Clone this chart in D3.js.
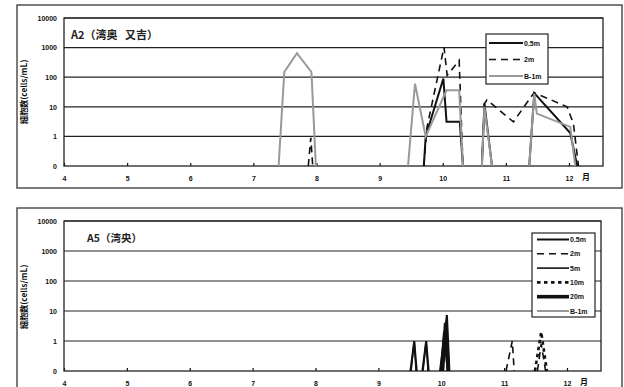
<!DOCTYPE html>
<html><head><meta charset="utf-8">
<script src="https://cdn.jsdelivr.net/npm/d3@7"></script>
<style>
body{margin:0;background:#fff;}
svg{display:block;font-family:"Liberation Sans",Arial,sans-serif;}
</style></head>
<body>
<svg id="c" width="624" height="387"></svg>
<script>
// ---------- data ----------
const monthTicks = [4,5,6,7,8,9,10,11,12];
const yTickValues = [0.1,1,10,100,1000,10000];
const yTickLabels = ["0","1","10","100","1000","10000"];
const yTitle = "細胞数(cells/mL)";
const monthUnit = "月";

// panel A2 (null = break in the line)
const a2Title = "A2（湾奥 又吉）";
const a2Names = ["0.5m","2m","B-1m"];
const a2_05m = [[9.70,0],[9.73,1],[10.01,90],[10.06,3.1],[10.27,3.1],[10.32,0],null,
  [10.62,0],[10.66,13],[10.78,0],null,[11.37,0],[11.45,29],[12.02,1.3],[12.13,0]];
const a2_2m = [[7.87,0],[7.91,0.9],[7.94,0],null,[9.70,0],[9.75,2],[10.02,1040],[10.07,115],
  [10.26,370],[10.32,0],null,[10.62,0],[10.66,13],[10.70,17],[11.12,3.1],[11.38,19],
  [11.45,30],[11.97,10],[12.07,2.7],[12.15,0]];
const a2_b1m = [[7.40,0],[7.49,150],[7.69,650],[7.92,150],[7.99,0],null,[9.45,0],[9.56,60],
  [9.73,1],[10.06,36],[10.26,36],[10.32,0],null,[10.62,0],[10.66,10],[10.78,0],null,
  [11.37,0],[11.45,28],[11.49,5.9],[12.02,2.1],[12.10,0]];

// panel A5
const a5Title = "A5（湾央）";
const a5Names = ["0.5m","2m","5m","10m","20m","B-1m"];
const a5_05m = [[9.51,0],[9.57,1],[9.61,0],null,[9.70,0],[9.76,1],[9.80,0],null,[9.98,0],[10.09,7.4],[10.13,0]];
const a5_2m = [[11.03,0],[11.13,1],[11.16,0],null,[11.53,0],[11.59,0.8],[11.66,0]];
const a5_5m = [[9.52,0],[9.57,1],[9.60,0],null,[9.71,0],[9.76,1],[9.79,0],null,[9.99,0],[10.04,2],[10.10,0]];
const a5_10m = [[11.49,0],[11.59,2],[11.68,0]];
const a5_20m = [[10.02,0],[10.07,4],[10.11,0]];
const a5_b1m = [];

// ---------- styles ----------
const styles = {
  "0.5m": {stroke:"#111", w:2, dash:null},
  "2m":   {stroke:"#111", w:1.6, dash:"7,5"},
  "5m":   {stroke:"#111", w:1.6, dash:null},
  "10m":  {stroke:"#111", w:2.6, dash:"3.5,3.5"},
  "20m":  {stroke:"#111", w:3.6, dash:null},
  "B-1m": {stroke:"#999", w:2, dash:null}
};

const svg = d3.select("#c");

function panel(cfg){
  const g = svg.append("g");
  g.append("rect").attr("x",cfg.box[0]).attr("y",cfg.box[1])
    .attr("width",cfg.box[2]).attr("height",cfg.box[3])
    .attr("fill","none").attr("stroke","#444").attr("stroke-width",1.4);

  const x = d3.scaleLinear().domain([4,12]).range([cfg.left, cfg.x12]);
  const y = d3.scaleLog().domain([0.1,10000]).range([cfg.bottom, cfg.top]);
  const yv = v => y(Math.max(v,0.1));

  g.selectAll(".grid").data(yTickValues.slice(1)).join("line")
    .attr("x1",cfg.left).attr("x2",cfg.right)
    .attr("y1",d=>y(d)).attr("y2",d=>y(d))
    .attr("stroke","#222").attr("stroke-width",1.2);

  const ya = d3.axisLeft(y).tickValues(yTickValues)
    .tickFormat((d,i)=>yTickLabels[i]).tickSize(0).tickPadding(7);
  const yg = g.append("g").attr("transform",`translate(${cfg.left},0)`).call(ya);
  yg.select(".domain").remove();
  yg.selectAll("text").attr("font-size",7).attr("font-weight","bold").attr("fill","#111");

  const xa = d3.axisBottom(x).tickValues(monthTicks).tickSize(-3).tickPadding(10).tickFormat(d3.format("d"));
  const xg = g.append("g").attr("transform",`translate(0,${cfg.bottom})`).call(xa);
  xg.select(".domain").remove();
  xg.selectAll("line").attr("stroke","#111").attr("stroke-width",1.2);
  xg.selectAll("text").attr("font-size",7).attr("font-weight","bold").attr("fill","#111");

  g.append("rect").attr("x",cfg.left).attr("y",cfg.top)
    .attr("width",cfg.right-cfg.left).attr("height",cfg.bottom-cfg.top)
    .attr("fill","none").attr("stroke","#222").attr("stroke-width",1.3);

  g.append("text").attr("x",cfg.unitX).attr("y",cfg.bottom+13.5)
    .attr("font-size",8).attr("font-weight","bold")
    .attr("font-family","'Noto Sans CJK JP',sans-serif").attr("fill","#111").text(monthUnit);

  g.append("text").attr("transform",`translate(${cfg.ytX},${cfg.ytY}) rotate(-90)`)
    .attr("text-anchor","middle").attr("font-size",8.2).attr("font-weight","bold")
    .attr("font-family","'Noto Sans CJK JP',sans-serif").attr("fill","#111").text(yTitle);

  g.append("text").attr("x",cfg.titleX).attr("y",cfg.titleY)
    .attr("font-size",cfg.titleSize).attr("font-weight","bold").attr("word-spacing",5)
    .attr("font-family","'Noto Sans CJK JP',sans-serif").attr("fill","#222").text(cfg.title);

  const line = d3.line().defined(d=>d!==null).x(d=>x(d[0])).y(d=>yv(d[1]));
  cfg.series.forEach(s=>{
    const st = styles[s.name];
    if(!s.data.length) return;
    g.append("path").attr("d",line(s.data)).attr("fill","none")
      .attr("stroke",st.stroke).attr("stroke-width",st.w)
      .attr("stroke-dasharray",st.dash).attr("stroke-linejoin","miter");
  });

  const L = cfg.legend;
  g.append("rect").attr("x",L.x).attr("y",L.y).attr("width",L.w).attr("height",L.h)
    .attr("fill","#fff").attr("stroke","#222").attr("stroke-width",1.2);
  cfg.series.forEach((s,i)=>{
    const st = styles[s.name];
    const yy = L.y0 + i*L.step;
    g.append("line").attr("x1",L.lx1).attr("x2",L.lx2).attr("y1",yy).attr("y2",yy)
      .attr("stroke",st.stroke).attr("stroke-width",st.w).attr("stroke-dasharray",st.dash);
    g.append("text").attr("x",L.lx2+1).attr("y",yy+2.5).attr("font-size",7)
      .attr("font-weight","bold").attr("fill","#111").text(s.name);
  });
}

panel({
  box:[17,5,605,183], left:64, right:603, x12:569, top:18, bottom:166,
  unitX:582, ytX:27, ytY:92, title:a2Title, titleX:71, titleY:39, titleSize:11,
  series:[{name:"0.5m",data:a2_05m},{name:"2m",data:a2_2m},{name:"B-1m",data:a2_b1m}],
  legend:{x:486,y:34,w:62,h:50,y0:43,step:16.5,lx1:489,lx2:523}
});

panel({
  box:[17,208,605,185], left:64, right:601, x12:567, top:221, bottom:371,
  unitX:580, ytX:27, ytY:297, title:a5Title, titleX:87, titleY:242, titleSize:10.5,
  series:[{name:"0.5m",data:a5_05m},{name:"2m",data:a5_2m},{name:"5m",data:a5_5m},
          {name:"10m",data:a5_10m},{name:"20m",data:a5_20m},{name:"B-1m",data:a5_b1m}],
  legend:{x:532,y:233,w:63,h:84,y0:239.5,step:14.3,lx1:537,lx2:569}
});
</script>
</body></html>
